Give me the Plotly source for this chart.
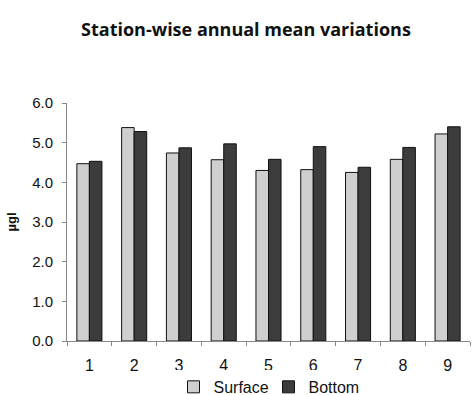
import plotly.graph_objects as go

# Station numbers and annual mean concentrations (µg/l)
stations = ["1", "2", "3", "4", "5", "6", "7", "8", "9"]
surface = [4.47, 5.38, 4.74, 4.57, 4.30, 4.32, 4.25, 4.58, 5.22]
bottom = [4.53, 5.28, 4.87, 4.97, 4.58, 4.90, 4.38, 4.88, 5.40]
y_ticks = [0, 1, 2, 3, 4, 5, 6]

FONT = "Liberation Sans, Arial, sans-serif"

fig = go.Figure()
fig.add_trace(go.Bar(
    x=stations, y=surface, name="Surface",
    marker=dict(color="#cfcfcf", line=dict(color="#111111", width=1)),
))
fig.add_trace(go.Bar(
    x=stations, y=bottom, name="Bottom",
    marker=dict(color="#3c3c3c", line=dict(color="#111111", width=1)),
))

fig.update_layout(
    width=473, height=395,
    margin=dict(l=67, r=3, t=103, b=54, autoexpand=False),
    paper_bgcolor="white", plot_bgcolor="white",
    barmode="group", bargap=0.44, bargroupgap=0,
    title=dict(
        text="<b>Station-wise annual mean variations</b>",
        x=0.52, xanchor="center", y=0.925, yanchor="middle",
        font=dict(family="Open Sans, sans-serif", size=18, color="#111111"),
    ),
    showlegend=True,
    legend=dict(
        orientation="h", x=0.5, xanchor="center", y=-0.193, yanchor="middle",
        font=dict(family=FONT, size=16, color="#111111"),
        itemwidth=30, entrywidth=50, tracegroupgap=0, itemclick=False,
    ),
    xaxis=dict(
        type="category", showline=True, linecolor="#888888", linewidth=1,
        ticks="outside", ticklen=4, tickcolor="#888888", tickson="boundaries",
        ticklabelstandoff=10,
        tickfont=dict(family=FONT, size=16, color="#111111"),
        showgrid=False, zeroline=False,
    ),
    yaxis=dict(
        range=[0, 6], tickvals=y_ticks, tickformat=".1f",
        showline=True, linecolor="#888888", linewidth=1,
        ticks="outside", ticklen=4, tickcolor="#888888",
        ticklabelstandoff=6,
        tickfont=dict(family=FONT, size=15, color="#111111"),
        showgrid=False, zeroline=False,
        title=dict(text="<b>µgl</b>", standoff=12,
                   font=dict(family=FONT, size=13, color="#111111")),
    ),
)

fig.write_html("out.html")
